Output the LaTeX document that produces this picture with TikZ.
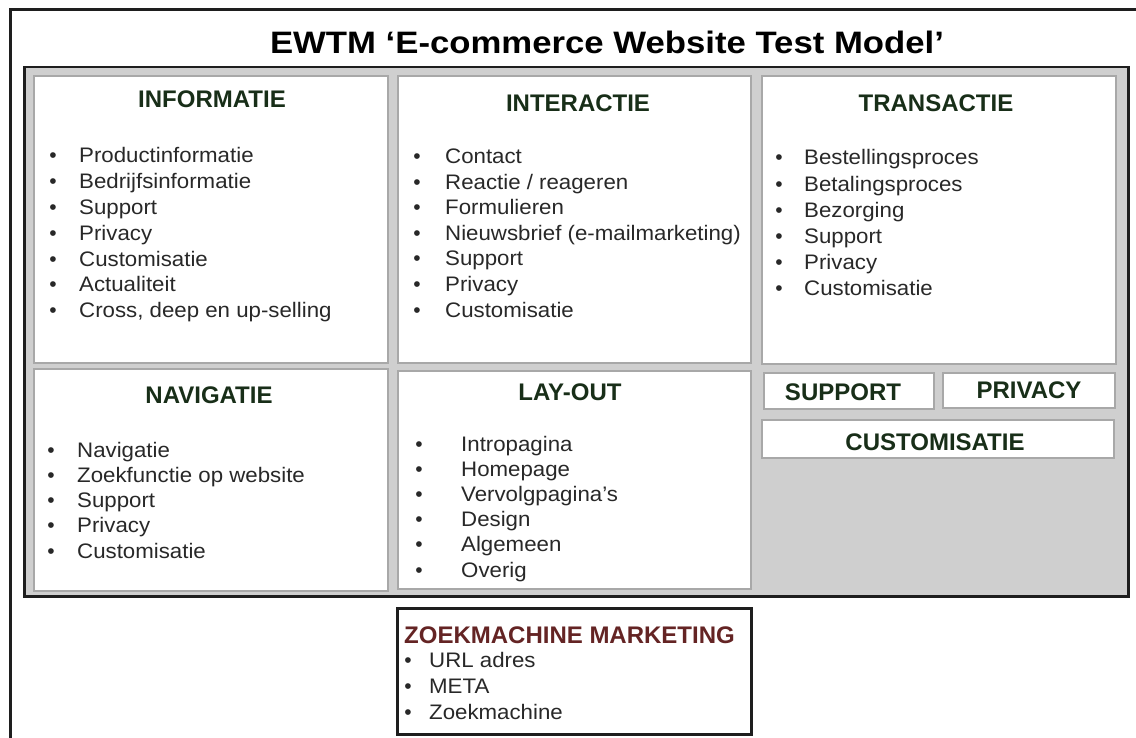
\documentclass[tikz,border=0pt]{standalone}
\usepackage{fontspec}
\setmainfont{Liberation Sans}
\newfontfamily\titlefont[FakeStretch=1.12]{Liberation Sans}
\newfontfamily\bodyfont[FakeStretch=1.06]{Liberation Sans}
\definecolor{headgreen}{RGB}{24,46,24}
\definecolor{headred}{RGB}{100,36,36}
\definecolor{bodytext}{RGB}{40,40,40}
\definecolor{panelgray}{RGB}{207,207,207}
\definecolor{boxedge}{RGB}{168,168,168}
\definecolor{frameline}{RGB}{30,30,30}

% one bullet list: name, bullet x, text x, first baseline, line step, items
\newcommand{\bulletlist}[6]{%
  \foreach \txt [count=\k] in {#6} {
    \node[dot] (#1-b\k) at (#2, {#4+(\k-1)*#5}) {•};
    \node[entry] (#1-\k) at (#3, {#4+(\k-1)*#5}) {\txt};
  }}

\begin{document}
\begin{tikzpicture}[x=1pt,y=-1pt,
  frame/.style={draw=frameline, line width=3pt},
  panel/.style={draw=frameline, line width=2.5pt, fill=panelgray, inner sep=0pt, anchor=north west},
  cell/.style={draw=boxedge, line width=2.2pt, fill=white, inner sep=0pt, anchor=north west},
  seobox/.style={draw=frameline, line width=2.5pt, fill=white, inner sep=0pt, anchor=north west},
  heading/.style={font=\fontsize{24}{28}\selectfont\bfseries, text=headgreen, anchor=base, inner sep=0pt},
  entry/.style={font=\bodyfont\fontsize{21}{25}\selectfont, text=bodytext, anchor=base west, inner sep=0pt},
  dot/.style={font=\fontsize{21}{25}\selectfont, text=bodytext, anchor=base, inner sep=0pt}
]
\useasboundingbox (0,0) rectangle (1136,738);
\clip (0,0) rectangle (1136,738);
\fill[white] (0,0) rectangle (1136,738);

% outer frame, running off the right and bottom edges
\draw[frame] (10,760) -- (10,10) -- (1160,10);

\node[font=\titlefont\fontsize{31}{36}\selectfont\bfseries, text=black, anchor=base, inner sep=0pt]
  (title) at (607,54) {EWTM ‘E-commerce Website Test Model’};

% grey panel with the test areas
\node[panel, minimum width=1104pt, minimum height=529pt] (panel) at (23,66) {};

\node[cell, minimum width=354pt, minimum height=287pt] (info)  at (33,75) {};
\node[cell, minimum width=353pt, minimum height=287pt] (inter) at (397,75) {};
\node[cell, minimum width=354pt, minimum height=288pt] (trans) at (761,75) {};
\node[cell, minimum width=354pt, minimum height=222pt] (navi)  at (33,368) {};
\node[cell, minimum width=353pt, minimum height=218pt] (lay)   at (397,370) {};
\node[cell, minimum width=170pt, minimum height=36pt]  (supp)  at (763,372) {};
\node[cell, minimum width=172pt, minimum height=35pt]  (priv)  at (942,372) {};
\node[cell, minimum width=352pt, minimum height=38pt]  (cust)  at (761,419) {};

\node[heading] (info-h)  at (212,108) {INFORMATIE};
\node[heading] (inter-h) at (578,112) {INTERACTIE};
\node[heading] (trans-h) at (936,112) {TRANSACTIE};
\node[heading] (navi-h)  at (209,403) {NAVIGATIE};
\node[heading] (lay-h)   at (570,400) {LAY-OUT};
\node[heading] (supp-h)  at (843,400) {SUPPORT};
\node[heading] (priv-h)  at (1029,398) {PRIVACY};
\node[heading] (cust-h)  at (935,450) {CUSTOMISATIE};

\bulletlist{infol}{53}{79}{163}{25.8}{Productinformatie,Bedrijfsinformatie,Support,Privacy,Customisatie,Actualiteit,{Cross, deep en up-selling}}
\bulletlist{interl}{417}{445}{164}{25.5}{Contact,Reactie / reageren,Formulieren,Nieuwsbrief (e-mailmarketing),Support,Privacy,Customisatie}
\bulletlist{transl}{779}{804}{165}{26.2}{Bestellingsproces,Betalingsproces,Bezorging,Support,Privacy,Customisatie}
\bulletlist{navil}{51}{77}{457}{25.3}{Navigatie,Zoekfunctie op website,Support,Privacy,Customisatie}
\bulletlist{layl}{419}{461}{451}{25.2}{Intropagina,Homepage,Vervolgpagina’s,Design,Algemeen,Overig}

% search engine marketing box below the panel
\node[seobox, minimum width=354pt, minimum height=126pt] (seo) at (396,607) {};
\node[heading, text=headred, anchor=base west] (seo-h) at (404,643) {ZOEKMACHINE MARKETING};
\bulletlist{seol}{408}{429}{667}{26}{URL adres,META,Zoekmachine}
\end{tikzpicture}
\end{document}
